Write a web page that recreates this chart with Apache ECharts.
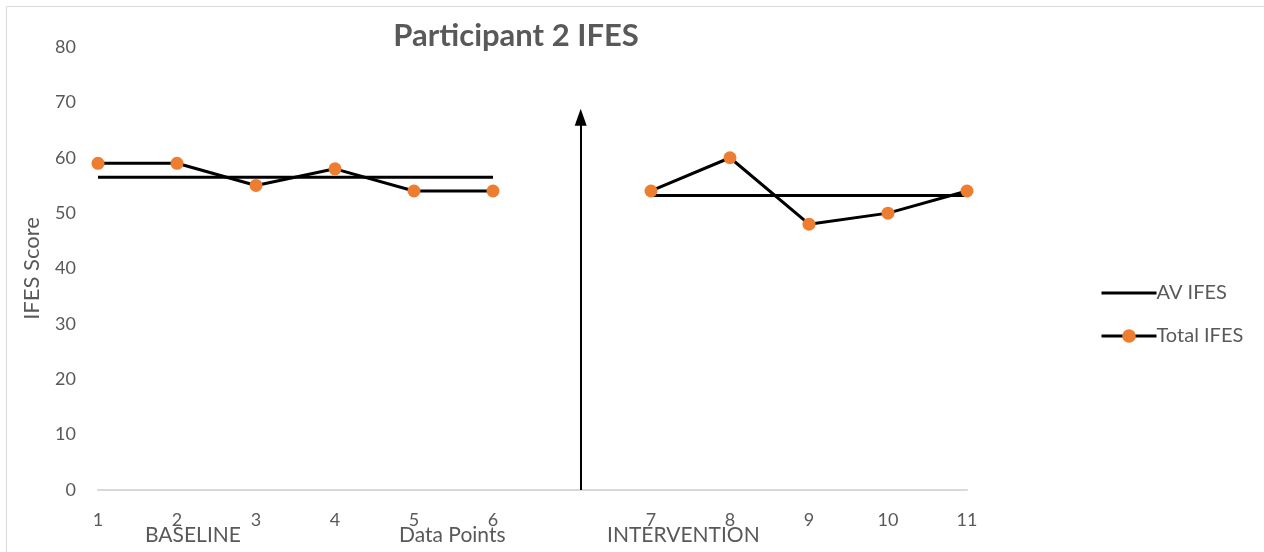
<!DOCTYPE html>
<html>
<head>
<meta charset="utf-8">
<script src="https://cdn.jsdelivr.net/npm/echarts@6/dist/echarts.min.js"></script>
<style>html,body{margin:0;padding:0;background:#fff;}#c{width:1264px;height:552px;}</style>
</head>
<body>
<div id="c"></div>
<script>
var categories = ['1','2','3','4','5','6','','7','8','9','10','11'];
var totalIFES = [59,59,55,58,54,54,null,54,60,48,50,54];
var avIFES = [56.5,56.5,56.5,56.5,56.5,56.5,null,53.2,53.2,53.2,53.2,53.2];
var arrowX = 6.11;
var arrowTop = 67.3;

var chart = echarts.init(document.getElementById('c'));
var FONT = 'Lato';
var GRAY = '#595959';
chart.setOption({
  animation: false,
  backgroundColor: '#fff',
  textStyle: {fontFamily: FONT},
  title: {
    text: 'Participant 2 IFES',
    left: 511, top: 15, textAlign: 'center',
    textStyle: {fontFamily: FONT, fontSize: 31, fontWeight: 'bold', color: GRAY}
  },
  grid: {left: 98, right: 297, top: 47, bottom: 62, containLabel: false},
  legend: {
    orient: 'vertical', left: 1095, top: 278, itemWidth: 55, itemHeight: 17, itemGap: 23,
    textStyle: {fontFamily: FONT, fontSize: 20, color: GRAY, padding: [0,0,0,-5]},
    data: [
      {name: 'AV IFES', itemStyle: {opacity: 0}, lineStyle: {width: 3}},
      {name: 'Total IFES', lineStyle: {width: 3}}
    ]
  },
  xAxis: [{
    type: 'category', data: categories, boundaryGap: false,
    axisLine: {lineStyle: {color: '#d9d9d9', width: 2}},
    axisTick: {show: false},
    axisLabel: {color: GRAY, fontSize: 18, margin: 21, interval: 0}
  }, {
    type: 'value', min: 0, max: 11, show: false
  }],
  yAxis: {
    type: 'value', min: 0, max: 80, interval: 10,
    name: 'IFES Score', nameLocation: 'middle', nameGap: 55,
    nameTextStyle: {color: GRAY, fontSize: 22},
    axisLine: {show: false}, axisTick: {show: false}, splitLine: {show: false},
    axisLabel: {color: GRAY, fontSize: 18, margin: 22}
  },
  series: [{
    name: 'AV IFES', type: 'line', data: avIFES, connectNulls: false,
    symbol: 'none', lineStyle: {color: '#000', width: 3}, itemStyle: {color: '#000'}, z: 2
  }, {
    name: 'Total IFES', type: 'line', data: totalIFES, connectNulls: false,
    symbol: 'circle', symbolSize: 13, showSymbol: true,
    lineStyle: {color: '#000', width: 3},
    itemStyle: {color: '#ED7D31', borderWidth: 0}, z: 3
  }, {
    name: 'arrow', type: 'line', xAxisIndex: 1, data: [], silent: true,
    markLine: {
      silent: true, symbol: ['none', 'triangle'], symbolSize: [12, 17],
      label: {show: false},
      lineStyle: {color: '#000', width: 2, type: 'solid'},
      data: [[{coord: [arrowX, 0]}, {coord: [arrowX, arrowTop]}]]
    }
  }],
  graphic: [
    {type: 'rect', shape: {x: 6.5, y: 6.5, width: 1300, height: 600}, style: {fill: 'none', stroke: '#d9d9d9', lineWidth: 1}, silent: true},
    {type: 'text', left: 145, top: 525, style: {text: 'BASELINE', font: '21px Lato', fill: GRAY}},
    {type: 'text', left: 399, top: 525, style: {text: 'Data Points', font: '21px Lato', fill: GRAY}},
    {type: 'text', left: 607, top: 525, style: {text: 'INTERVENTION', font: '21px Lato', fill: GRAY}}
  ]
});
</script>
</body>
</html>
